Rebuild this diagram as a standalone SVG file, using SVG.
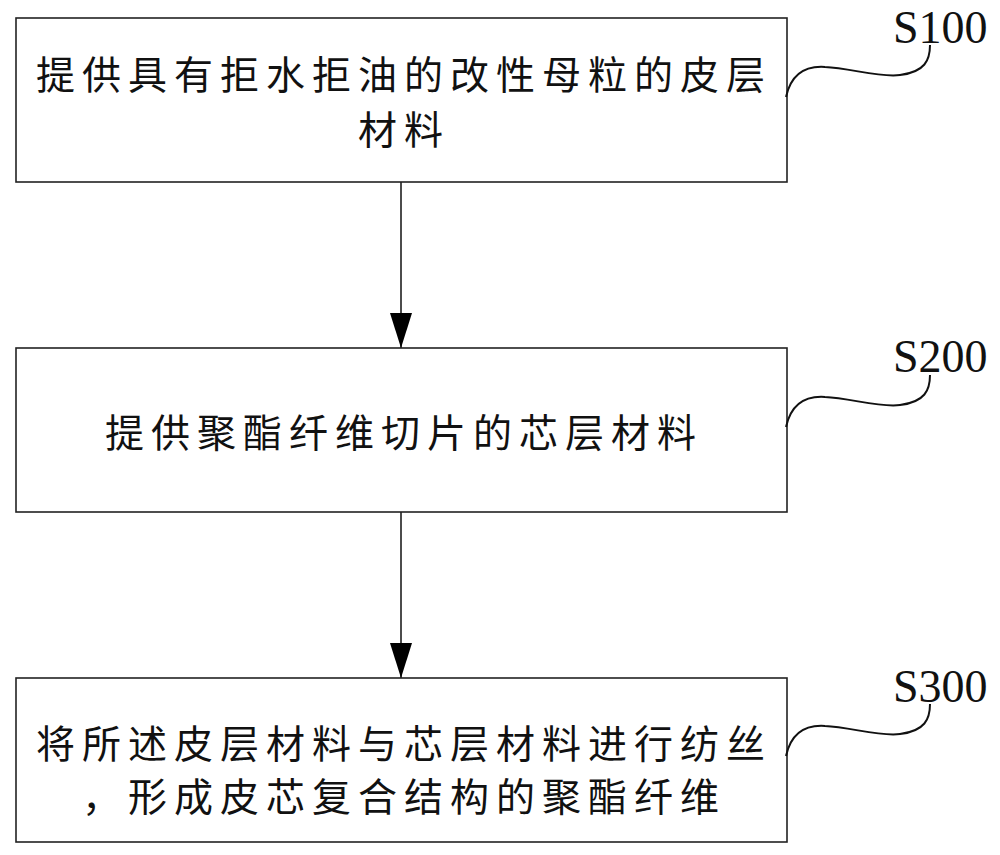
<svg xmlns="http://www.w3.org/2000/svg" width="1000" height="855" viewBox="0 0 1000 855">
<style>
.box{fill:#fff;stroke:#222;stroke-width:1.6}
.t{font-family:"Noto Sans CJK SC","Noto Sans CJK JP",sans-serif;font-size:39px;fill:#111;text-anchor:middle;letter-spacing:7px}
.lbl{font-family:"Liberation Serif",serif;font-size:46px;fill:#111}
.sq{fill:none;stroke:#111;stroke-width:2}
.ar{stroke:#111;stroke-width:1.5;fill:none}
</style>
<defs>
<marker id="ah" viewBox="0 0 35 22" refX="35" refY="11" markerWidth="35" markerHeight="22" markerUnits="userSpaceOnUse" orient="auto">
<path d="M0,0 L35,11 L0,22 Z" fill="#000"/>
</marker>
</defs>
<rect width="1000" height="855" fill="#fff"/>
<g id="connectors">
<line class="ar" x1="401" y1="182" x2="401" y2="348" marker-end="url(#ah)"/>
<line class="ar" x1="401" y1="512" x2="401" y2="678" marker-end="url(#ah)"/>
</g>
<g id="s100">
<rect class="box" x="16" y="18" width="771" height="164"/>
<text class="t" x="404" y="89">提供具有拒水拒油的改性母粒的皮层</text>
<text class="t" x="404" y="144">材料</text>
</g>
<g id="s200">
<rect class="box" x="16" y="348" width="771" height="164"/>
<text class="t" x="404" y="447">提供聚酯纤维切片的芯层材料</text>
</g>
<g id="s300">
<rect class="box" x="16" y="678" width="771" height="164"/>
<text class="t" x="404" y="758">将所述皮层材料与芯层材料进行纺丝</text>
<text class="t" x="404" y="811">，形成皮芯复合结构的聚酯纤维</text>
</g>
<g id="labels">
<text class="lbl" x="893" y="43">S100</text>
<path class="sq" d="M786,97 C792,70 810,66 825,67 C850,68 880,78 900,75 C925,72 930,60 930,45"/>
<text class="lbl" x="893" y="372">S200</text>
<path class="sq" d="M786,427 C792,400 810,396 825,397 C850,398 880,408 900,405 C925,402 930,390 930,375"/>
<text class="lbl" x="893" y="702">S300</text>
<path class="sq" d="M786,756 C792,729 810,725 825,726 C850,727 880,737 900,734 C925,731 930,719 930,704"/>
</g>
</svg>
